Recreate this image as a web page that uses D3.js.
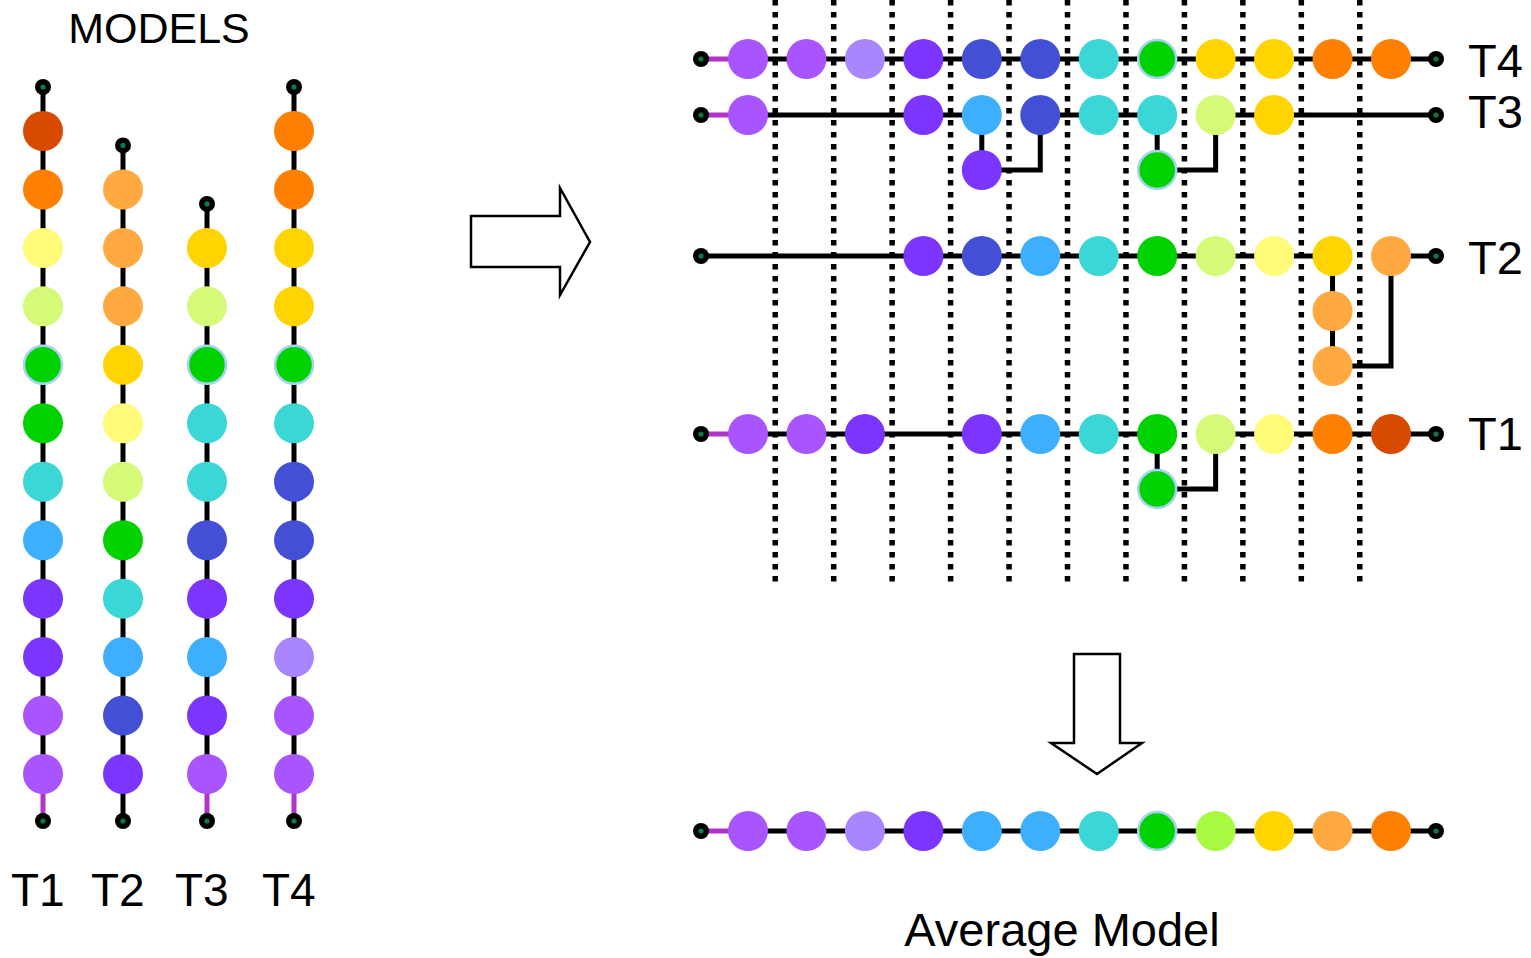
<!DOCTYPE html>
<html>
<head>
<meta charset="utf-8">
<script src="https://cdn.jsdelivr.net/npm/d3@7"></script>
<style>
  html, body { margin: 0; padding: 0; background: #ffffff; }
  svg { display: block; font-family: "Liberation Sans", Arial, sans-serif; }
</style>
</head>
<body>
<svg id="chart" width="1531" height="958"></svg>
<script>
// ---------------- DATA ----------------
// Model names
const models = ["T1", "T2", "T3", "T4"];

// Layer colour categories of each model, listed bottom (first layer) to top (last layer)
const modelT1 = ["purple","purple","violet","violet","skyblue","cyan","green","greenRing","yellowgreen","lightyellow","orange","darkorange"];
const modelT2 = ["violet","indigo","skyblue","cyan","green","yellowgreen","lightyellow","gold","lightorange","lightorange","lightorange"];
const modelT3 = ["purple","violet","skyblue","violet","indigo","cyan","cyan","greenRing","yellowgreen","gold"];
const modelT4 = ["purple","purple","lavender","violet","indigo","indigo","cyan","greenRing","gold","gold","orange","orange"];

// Alignment of every layer: slot (column between dividers) and branch depth
const slotT1  = [0,1,2,4,5,6,7,7,8,9,10,11];
const depthT1 = [0,0,0,0,0,0,0,1,0,0,0,0];
const slotT2  = [3,4,5,6,7,8,9,10,10,10,11];
const depthT2 = [0,0,0,0,0,0,0,0,1,2,0];
const slotT3  = [0,3,4,4,5,6,7,7,8,9];
const depthT3 = [0,0,0,1,0,0,0,1,0,0];
const slotT4  = [0,1,2,3,4,5,6,7,8,9,10,11];
const depthT4 = [0,0,0,0,0,0,0,0,0,0,0,0];

// Averaged model
const averageModel = ["purple","purple","lavender","violet","skyblue","skyblue","cyan","greenRing","lime","gold","lightorange","orange"];

// Number of aligned slots
const slotCount = 12;

// Text
const titleText = "MODELS";
const averageText = "Average Model";

// ---------------- STYLE ----------------
const palette = {
  darkorange: "#d84a00", orange: "#ff7f00", lightorange: "#ffa940", gold: "#ffd400",
  lightyellow: "#fffa78", yellowgreen: "#d5fa78", green: "#00d200", greenRing: "#00d200",
  lime: "#a8f942", cyan: "#3bd6d6", skyblue: "#3eaeff", indigo: "#4350d6",
  violet: "#7b35ff", purple: "#a855ff", lavender: "#a985ff"
};
const R = 20;
const LINE_W = 5;
const PURPLE_LINK = "#b233cc";
const DOT_CENTER = "#0c7a45";

const svg = d3.select("#chart");

const modelLayers = { T1: modelT1, T2: modelT2, T3: modelT3, T4: modelT4 };
const modelSlots  = { T1: slotT1, T2: slotT2, T3: slotT3, T4: slotT4 };
const modelDepth  = { T1: depthT1, T2: depthT2, T3: depthT3, T4: depthT4 };

function drawNode(g, x, y, cat) {
  g.append("circle")
    .attr("cx", x).attr("cy", y).attr("r", cat === "greenRing" ? R - 1 : R)
    .attr("fill", palette[cat])
    .attr("stroke", cat === "greenRing" ? "#a9d3f5" : "none")
    .attr("stroke-width", cat === "greenRing" ? 2.5 : 0);
}
function drawEnd(g, x, y) {
  g.append("circle").attr("cx", x).attr("cy", y).attr("r", 8).attr("fill", "#000");
  g.append("circle").attr("cx", x).attr("cy", y).attr("r", 2.6).attr("fill", DOT_CENTER);
}

// ---------------- LEFT PANEL (vertical models) ----------------
const colX = d3.scaleOrdinal().domain(models).range([43, 123, 207, 294]);
const layerY = d3.scaleLinear().domain([0, 11]).range([774, 131]);

const left = svg.append("g");
const leftLines = left.append("g");
const leftNodes = left.append("g");

models.forEach(m => {
  const layers = modelLayers[m];
  const x = colX(m);
  const yBottomEnd = layerY(0) + 47;
  const yTopEnd = layerY(layers.length - 1) - 44;
  leftLines.append("line")
    .attr("x1", x).attr("x2", x).attr("y1", yBottomEnd).attr("y2", layerY(0))
    .attr("stroke", layers[0] === "purple" ? PURPLE_LINK : "#000").attr("stroke-width", LINE_W);
  leftLines.append("line")
    .attr("x1", x).attr("x2", x).attr("y1", layerY(0)).attr("y2", yTopEnd)
    .attr("stroke", "#000").attr("stroke-width", LINE_W);
  layers.forEach((c, i) => drawNode(leftNodes, x, layerY(i), c));
  drawEnd(leftNodes, x, yBottomEnd);
  drawEnd(leftNodes, x, yTopEnd);
  left.append("text")
    .attr("x", x - 32).attr("y", 906)
    .attr("font-size", 46).attr("fill", "#000")
    .text(m);
});

svg.append("text")
  .attr("x", 159).attr("y", 43).attr("text-anchor", "middle")
  .attr("font-size", 43).attr("fill", "#000").text(titleText);

// ---------------- ARROWS ----------------
const arrowLine = d3.line();
svg.append("path")
  .attr("d", arrowLine([[471,216],[560,216],[560,188],[590,242],[560,295],[560,267],[471,267]]) + "Z")
  .attr("fill", "#fff").attr("stroke", "#000").attr("stroke-width", 2.5).attr("stroke-linejoin", "miter");
svg.append("path")
  .attr("d", arrowLine([[1074,654],[1120,654],[1120,743],[1142,743],[1097,774],[1051,743],[1074,743]]) + "Z")
  .attr("fill", "#fff").attr("stroke", "#000").attr("stroke-width", 2.5).attr("stroke-linejoin", "miter");

// ---------------- RIGHT PANEL (aligned models) ----------------
const slotX = d3.scaleLinear().domain([0, slotCount - 1]).range([748, 1391]);
const rowY = d3.scaleOrdinal().domain(["T4", "T3", "T2", "T1", "AVG"]).range([59, 115, 256, 434, 831]);
const DEPTH = 55;

const right = svg.append("g");
const rLines = right.append("g");
const rNodes = right.append("g");
const rGrid = right.append("g");

function drawChain(rowKey, layers, slots, depths) {
  const y0 = rowY(rowKey);
  const pts = layers.map((c, i) => ({ c, x: slotX(slots[i]), y: y0 + depths[i] * DEPTH, d: depths[i] }));
  const xStart = slotX(0) - 47, xEnd = slotX(slotCount - 1) + 45;
  rLines.append("line")
    .attr("x1", xStart).attr("x2", pts[0].x).attr("y1", y0).attr("y2", y0)
    .attr("stroke", layers[0] === "purple" && slots[0] === 0 ? PURPLE_LINK : "#000")
    .attr("stroke-width", LINE_W);
  for (let i = 0; i < pts.length - 1; i++) {
    const a = pts[i], b = pts[i + 1];
    let path;
    if (b.d >= a.d) path = [[a.x, a.y], [b.x, b.y]];
    else path = [[a.x, a.y], [b.x, a.y], [b.x, b.y]];
    rLines.append("path")
      .attr("d", d3.line()(path))
      .attr("fill", "none").attr("stroke", "#000").attr("stroke-width", LINE_W)
      .attr("stroke-linejoin", "miter");
  }
  const last = pts[pts.length - 1];
  rLines.append("line")
    .attr("x1", last.x).attr("x2", xEnd).attr("y1", y0).attr("y2", y0)
    .attr("stroke", "#000").attr("stroke-width", LINE_W);
  pts.forEach(p => drawNode(rNodes, p.x, p.y, p.c));
  drawEnd(rNodes, xStart, y0);
  drawEnd(rNodes, xEnd, y0);
}

["T4", "T3", "T2", "T1"].forEach(m => {
  drawChain(m, modelLayers[m], modelSlots[m], modelDepth[m]);
  right.append("text")
    .attr("x", 1468).attr("y", rowY(m) + (m === "T3" ? 13 : 18) + (m === "T1" ? -2 : 0))
    .attr("font-size", 47).attr("fill", "#000").text(m);
});
drawChain("AVG", averageModel, d3.range(slotCount), averageModel.map(() => 0));

// dotted slot dividers (drawn above nodes)
d3.range(slotCount - 1).forEach(i => {
  rGrid.append("line")
    .attr("x1", slotX(i + 0.5) - 2).attr("x2", slotX(i + 0.5) - 2)
    .attr("y1", 0).attr("y2", 584)
    .attr("stroke", "#000").attr("stroke-width", 5.5)
    .attr("stroke-dasharray", "5.5,6.5");
});

svg.append("text")
  .attr("x", 1062).attr("y", 946).attr("text-anchor", "middle")
  .attr("font-size", 47).attr("fill", "#000").text(averageText);
</script>
</body>
</html>
